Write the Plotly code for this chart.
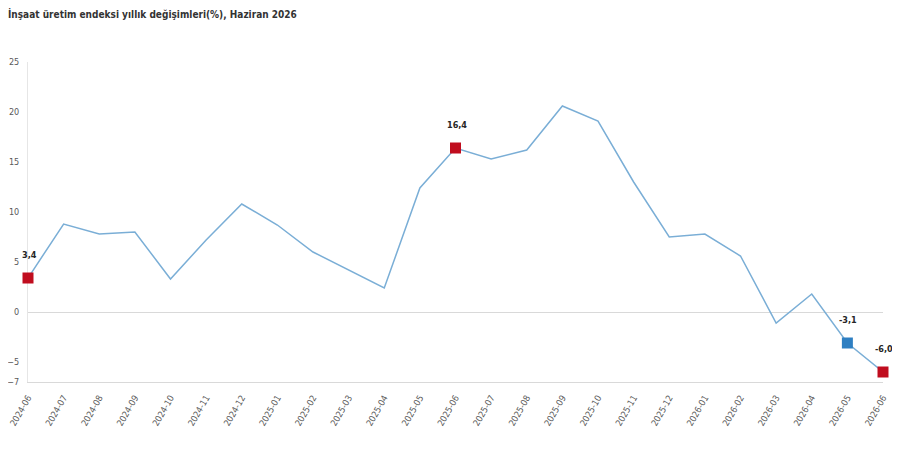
import plotly.graph_objects as go

# aylar ve yillik degisim (%)
months = [
    "2024-06", "2024-07", "2024-08", "2024-09", "2024-10", "2024-11", "2024-12",
    "2025-01", "2025-02", "2025-03", "2025-04", "2025-05", "2025-06", "2025-07",
    "2025-08", "2025-09", "2025-10", "2025-11", "2025-12", "2026-01", "2026-02",
    "2026-03", "2026-04", "2026-05", "2026-06",
]
values = [
    3.4, 8.8, 7.8, 8.0, 3.3, 7.2, 10.8,
    8.7, 6.0, 4.2, 2.4, 12.4, 16.4, 15.3,
    16.2, 20.6, 19.1, 13.0, 7.5, 7.8, 5.6,
    -1.1, 1.8, -3.1, -6.0,
]

# isaretli noktalar
red_months = ["2024-06", "2025-06", "2026-06"]
blue_months = ["2026-05"]
y_ticks = [-7, -5, 0, 5, 10, 15, 20, 25]

lookup = dict(zip(months, values))
FONT = "DejaVu Sans Condensed, Roboto, sans-serif"

fig = go.Figure()

fig.add_trace(go.Scatter(
    x=months, y=values, mode="lines",
    line=dict(color="#7aaed6", width=1.5),
    hoverinfo="x+y", showlegend=False,
))

fig.add_trace(go.Scatter(
    x=red_months, y=[lookup[m] for m in red_months], mode="markers",
    marker=dict(symbol="square", size=11, color="#c00d1e"),
    cliponaxis=False, showlegend=False,
))
fig.add_trace(go.Scatter(
    x=blue_months, y=[lookup[m] for m in blue_months], mode="markers",
    marker=dict(symbol="square", size=11, color="#2e7fc2"),
    cliponaxis=False, showlegend=False,
))

for m in red_months + blue_months:
    fig.add_annotation(
        x=m, y=lookup[m], text=f"{lookup[m]:.1f}".replace(".", ","),
        showarrow=False, yshift=23, xshift=1,
        font=dict(family=FONT, size=9, color="#262626", weight="bold"),
    )

# sayfa govdesinin 8px kenar boslugu icin margin'ler buna gore ayarli
fig.update_layout(
    width=900, height=450,
    margin=dict(l=20, r=25, t=54, b=76),
    paper_bgcolor="white", plot_bgcolor="white",
    title=dict(
        text="<b>İnşaat üretim endeksi yıllık değişimleri(%), Haziran 2026</b>",
        x=0, xanchor="left", y=1, yanchor="top", pad=dict(l=0, t=3),
        font=dict(family=FONT, size=10, color="#333333"),
    ),
    font=dict(family=FONT, size=9, color="#595959"),
)

fig.update_xaxes(
    type="category", range=[0, len(months) - 1], automargin=False,
    tickangle=-60, showgrid=False, ticks="", layer="below traces",
    showline=True, linecolor="#d9d9d9", linewidth=1, ticklabelstandoff=6,
    tickfont=dict(family=FONT, size=9, color="#595959"),
)
fig.update_yaxes(
    range=[-7, 25], tickvals=y_ticks, showgrid=False, automargin=False,
    zeroline=True, zerolinecolor="#d9d9d9", zerolinewidth=1,
    showline=True, linecolor="#e6e6e6", linewidth=1, layer="below traces",
    ticks="", ticklabelstandoff=6,
    tickfont=dict(family=FONT, size=9, color="#595959"),
)

fig.write_html("out.html")
